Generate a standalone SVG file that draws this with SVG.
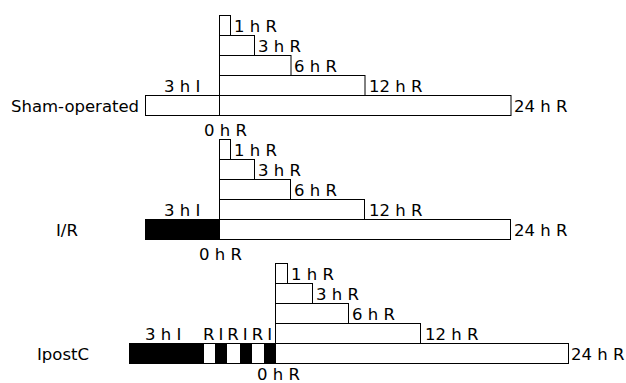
<svg xmlns="http://www.w3.org/2000/svg" width="626" height="383" viewBox="0 0 626 383">
  <style>
    .bar { fill: #ffffff; stroke: #000000; stroke-width: 1; }
    .isch { fill: #000000; stroke: #000000; stroke-width: 1; }
    .div { stroke: #000000; stroke-width: 1; }
    text { font-family: "DejaVu Sans", "Liberation Sans", sans-serif; font-size: 16.5px; fill: #000000; }
  </style>
  <rect x="0" y="0" width="626" height="383" fill="#ffffff"/>

  <!-- Sham-operated group -->
  <g id="sham">
    <text x="11" y="112">Sham-operated</text>
    <g id="sham-1h"><rect class="bar" x="219.5" y="15.5" width="11" height="20"/><text x="234" y="32">1 h R</text></g>
    <g id="sham-3h"><rect class="bar" x="219.5" y="35.5" width="35" height="20"/><text x="258" y="52">3 h R</text></g>
    <g id="sham-6h"><rect class="bar" x="219.5" y="55.5" width="71.5" height="20"/><text x="294" y="72">6 h R</text></g>
    <g id="sham-12h"><rect class="bar" x="219.5" y="75.5" width="145.5" height="20"/><text x="369" y="92">12 h R</text><text x="164" y="92">3 h I</text></g>
    <g id="sham-24h">
      <rect class="bar" x="145.5" y="95.5" width="365.5" height="20"/>
      <line class="div" x1="219.5" y1="95.5" x2="219.5" y2="115.5"/>
      <text x="514" y="112">24 h R</text>
      <text x="204" y="136">0 h R</text>
    </g>
  </g>

  <!-- I/R group -->
  <g id="ir">
    <text x="56" y="236">I/R</text>
    <g id="ir-1h"><rect class="bar" x="219.5" y="139.5" width="11" height="20"/><text x="234" y="156">1 h R</text></g>
    <g id="ir-3h"><rect class="bar" x="219.5" y="159.5" width="35" height="20"/><text x="258" y="176">3 h R</text></g>
    <g id="ir-6h"><rect class="bar" x="219.5" y="179.5" width="71" height="20"/><text x="294" y="196">6 h R</text></g>
    <g id="ir-12h"><rect class="bar" x="219.5" y="199.5" width="145" height="20"/><text x="369" y="216">12 h R</text><text x="164" y="216">3 h I</text></g>
    <g id="ir-24h">
      <rect class="bar" x="145.5" y="219.5" width="365" height="20"/>
      <rect class="isch" x="145.5" y="219.5" width="74" height="20"/>
      <text x="514" y="236">24 h R</text>
      <text x="199" y="260">0 h R</text>
    </g>
  </g>

  <!-- IpostC group -->
  <g id="ipostc">
    <text x="37" y="360">IpostC</text>
    <g id="ipostc-1h"><rect class="bar" x="275.5" y="263.5" width="12" height="20"/><text x="291" y="280">1 h R</text></g>
    <g id="ipostc-3h"><rect class="bar" x="275.5" y="283.5" width="37" height="20"/><text x="316" y="300">3 h R</text></g>
    <g id="ipostc-6h"><rect class="bar" x="275.5" y="303.5" width="73" height="20"/><text x="352" y="320">6 h R</text></g>
    <g id="ipostc-12h"><rect class="bar" x="275.5" y="323.5" width="145" height="20"/><text x="425" y="340">12 h R</text><text x="145" y="340">3 h I</text><text x="203" y="340" letter-spacing="4">RIRIRI</text></g>
    <g id="ipostc-24h">
      <rect class="bar" x="129.5" y="343.5" width="439" height="20"/>
      <rect class="isch" x="129.5" y="343.5" width="74" height="20"/>
      <rect class="isch" x="215.5" y="343.5" width="11" height="20"/>
      <rect class="isch" x="240.5" y="343.5" width="11" height="20"/>
      <rect class="isch" x="264.5" y="343.5" width="11" height="20"/>
      <text x="571" y="360">24 h R</text>
      <text x="257" y="380">0 h R</text>
    </g>
  </g>
</svg>
